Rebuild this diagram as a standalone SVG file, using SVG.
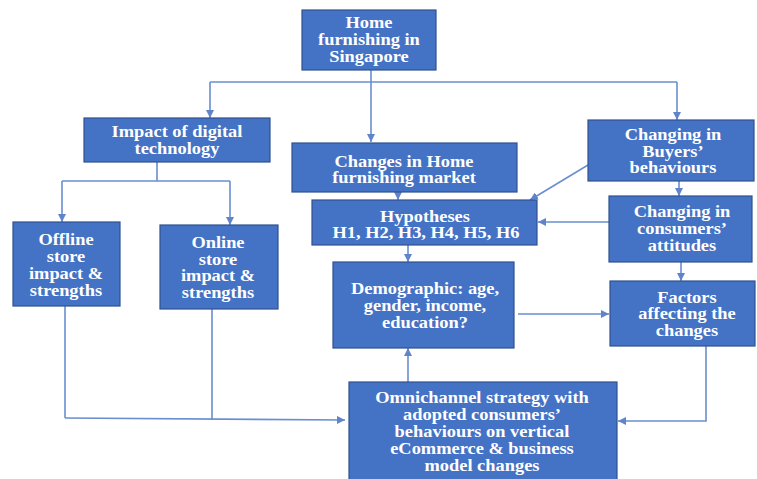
<svg xmlns="http://www.w3.org/2000/svg" width="757" height="479" viewBox="0 0 757 479">
<defs>
<marker id="ah" viewBox="0 0 10 10" refX="10" refY="5" markerWidth="8" markerHeight="8" markerUnits="userSpaceOnUse" orient="auto">
<path d="M0,0 L10,5 L0,10 z" fill="#5f84cc"/>
</marker>
<style>
.box{fill:#4472C4;stroke:#2F528F;stroke-width:1.2}
.t{font-family:"Liberation Serif","Times New Roman",serif;font-size:16px;font-weight:bold;fill:#ffffff;text-anchor:middle;transform-box:fill-box;transform-origin:center;transform:scaleX(1.15)}
.c{fill:none;stroke:#6a8ed0;stroke-width:1.6}
.a{marker-end:url(#ah)}
</style>
</defs>
<rect width="757" height="479" fill="#ffffff"/>
<g id="connectors">
<path class="c a" d="M371,70 V142"/>
<path class="c" d="M210,82 H677"/>
<path class="c a" d="M210,82 V118"/>
<path class="c a" d="M677,82 V120"/>
<path class="c" d="M157,162 V181 M62,181 H230"/>
<path class="c a" d="M62,181 V222"/>
<path class="c a" d="M230,181 V225"/>
<path class="c a" d="M398,192 V200"/>
<path class="c a" d="M588,165 L530,200"/>
<path class="c a" d="M679,181 V196"/>
<path class="c a" d="M609,222 H538"/>
<path class="c a" d="M408,245 V262"/>
<path class="c a" d="M681,262 V281"/>
<path class="c a" d="M518,314 H609"/>
<path class="c a" d="M706,346 V421 H618"/>
<path class="c a" d="M408,382 V348"/>
<path class="c" d="M65,306 V418"/>
<path class="c" d="M212,309 V420"/>
<path class="c a" d="M65,418 L345,420"/>
</g>
<g id="home">
<rect class="box" x="302" y="10" width="134" height="60"/>
<text class="t" x="369" y="28">Home</text>
<text class="t" x="369" y="45">furnishing in</text>
<text class="t" x="369" y="62">Singapore</text>
</g>
<g id="impact">
<rect class="box" x="84" y="118" width="186" height="44"/>
<text class="t" x="177" y="137">Impact of digital</text>
<text class="t" x="177" y="154">technology</text>
</g>
<g id="changes">
<rect class="box" x="292" y="143" width="225" height="49"/>
<text class="t" x="404" y="167">Changes in Home</text>
<text class="t" x="404" y="183">furnishing market</text>
</g>
<g id="buyers">
<rect class="box" x="588" y="120" width="166" height="61"/>
<text class="t" x="673" y="140">Changing in</text>
<text class="t" x="673" y="157">Buyers’</text>
<text class="t" x="673" y="173">behaviours</text>
</g>
<g id="hypotheses">
<rect class="box" x="312" y="200" width="225" height="45"/>
<text class="t" x="425" y="222">Hypotheses</text>
<text class="t" x="426" y="238">H1, H2, H3, H4, H5, H6</text>
</g>
<g id="consumers">
<rect class="box" x="609" y="196" width="143" height="66"/>
<text class="t" x="682" y="217">Changing in</text>
<text class="t" x="682" y="234">consumers’</text>
<text class="t" x="682" y="251">attitudes</text>
</g>
<g id="offline">
<rect class="box" x="13" y="222" width="107" height="84"/>
<text class="t" x="66" y="245">Offline</text>
<text class="t" x="66" y="262">store</text>
<text class="t" x="66" y="279">impact &amp;</text>
<text class="t" x="66" y="296">strengths</text>
</g>
<g id="online">
<rect class="box" x="160" y="225" width="118" height="84"/>
<text class="t" x="218" y="248">Online</text>
<text class="t" x="218" y="265">store</text>
<text class="t" x="218" y="281">impact &amp;</text>
<text class="t" x="218" y="298">strengths</text>
</g>
<g id="demographic">
<rect class="box" x="333" y="262" width="181" height="86"/>
<text class="t" x="425" y="294">Demographic: age,</text>
<text class="t" x="425" y="311">gender, income,</text>
<text class="t" x="425" y="328">education?</text>
</g>
<g id="factors">
<rect class="box" x="610" y="281" width="145" height="65"/>
<text class="t" x="687" y="303">Factors</text>
<text class="t" x="687" y="319">affecting the</text>
<text class="t" x="687" y="336">changes</text>
</g>
<g id="omnichannel">
<rect class="box" x="349" y="382" width="268" height="100"/>
<text class="t" x="482" y="403">Omnichannel strategy with</text>
<text class="t" x="482" y="420">adopted consumers’</text>
<text class="t" x="482" y="437">behaviours on vertical</text>
<text class="t" x="482" y="454">eCommerce &amp; business</text>
<text class="t" x="482" y="471">model changes</text>
</g>
</svg>
